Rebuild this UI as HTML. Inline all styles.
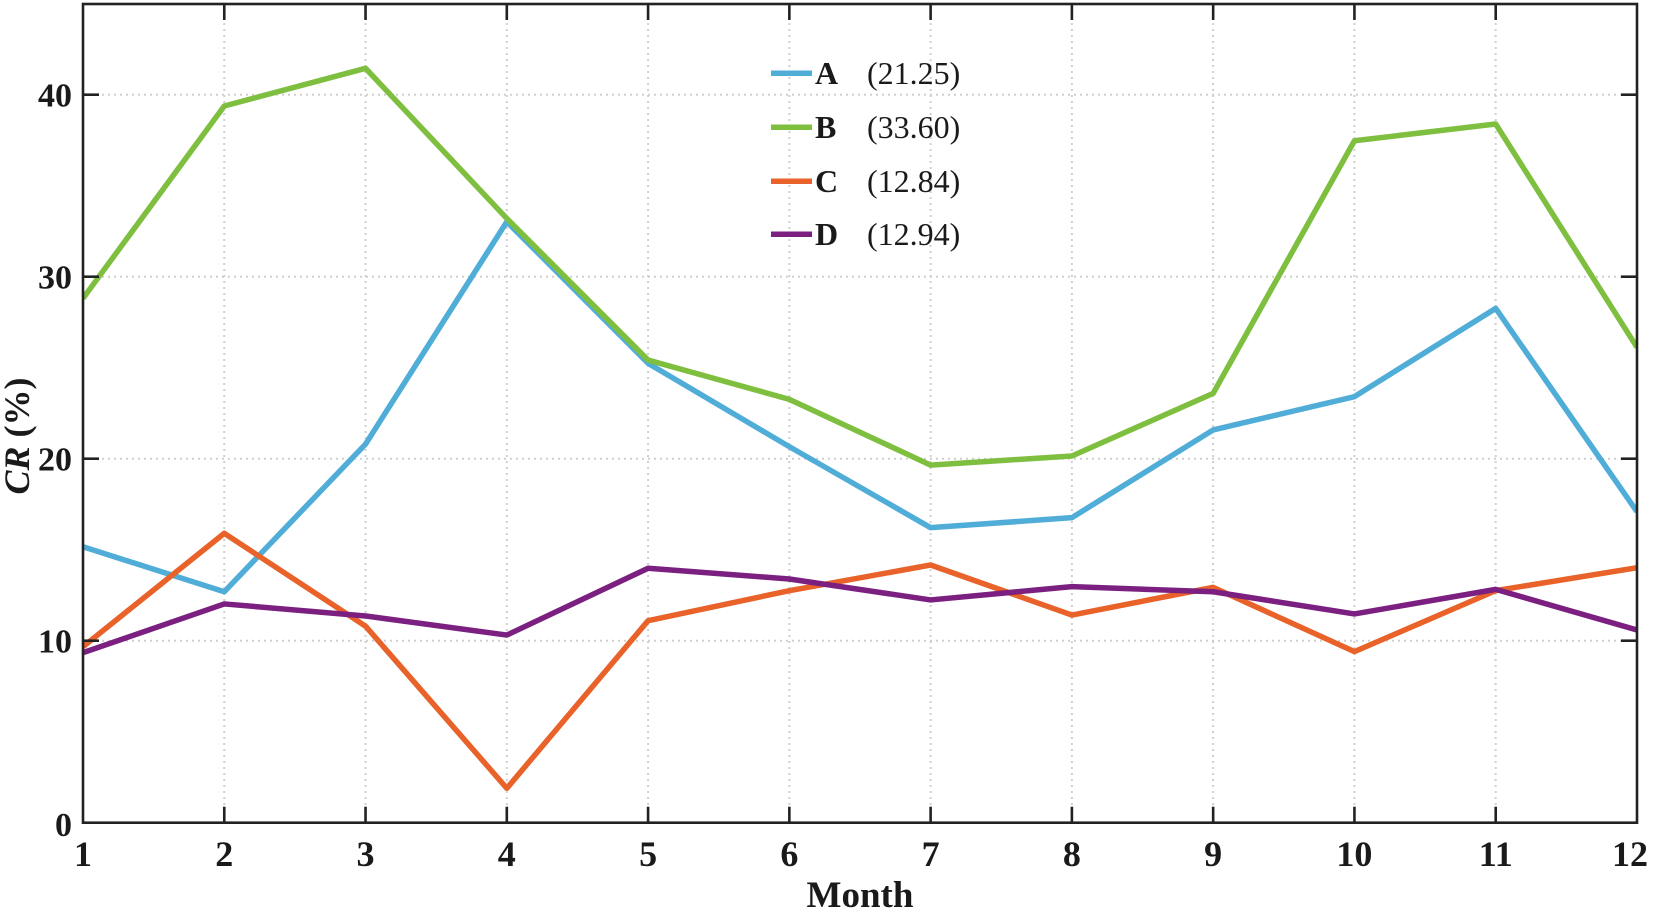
<!DOCTYPE html>
<html>
<head>
<meta charset="utf-8">
<style>
  html, body { margin: 0; padding: 0; background: #ffffff; }
  svg { display: block; }
  text { font-family: "Liberation Serif", "Times New Roman", serif; fill: #1a1a1a; }
</style>
</head>
<body>
<svg width="1656" height="911" viewBox="0 0 1656 911" xmlns="http://www.w3.org/2000/svg">
  <defs>
    <clipPath id="plotclip">
      <rect x="83" y="4" width="1554" height="819"/>
    </clipPath>
  </defs>

  <!-- Grid -->
  <g stroke="#cfcfcf" stroke-width="2" stroke-dasharray="2,4" fill="none">
    <line x1="224.27" y1="5" x2="224.27" y2="822"/>
    <line x1="365.54" y1="5" x2="365.54" y2="822"/>
    <line x1="506.81" y1="5" x2="506.81" y2="822"/>
    <line x1="648.08" y1="5" x2="648.08" y2="822"/>
    <line x1="789.35" y1="5" x2="789.35" y2="822"/>
    <line x1="930.62" y1="5" x2="930.62" y2="822"/>
    <line x1="1071.89" y1="5" x2="1071.89" y2="822"/>
    <line x1="1213.16" y1="5" x2="1213.16" y2="822"/>
    <line x1="1354.43" y1="5" x2="1354.43" y2="822"/>
    <line x1="1495.7" y1="5" x2="1495.7" y2="822"/>
    <line x1="84" y1="640.7" x2="1636" y2="640.7"/>
    <line x1="84" y1="458.7" x2="1636" y2="458.7"/>
    <line x1="84" y1="276.7" x2="1636" y2="276.7"/>
    <line x1="84" y1="94.7" x2="1636" y2="94.7"/>
  </g>

  <!-- Series -->
  <g clip-path="url(#plotclip)">
    <g transform="translate(83,822.7) scale(141.27,-18.2)" fill="none" stroke-linejoin="round" stroke-linecap="butt">
      <polyline vector-effect="non-scaling-stroke" stroke="#4fadd8" stroke-width="5.5"
        points="0,15.16 1,12.69 2,20.8 3,33.02 4,25.24 5,20.66 6,16.21 7,16.76 8,21.58 9,23.41 10,28.26 11,17.09"/>
      <polyline vector-effect="non-scaling-stroke" stroke="#7fbf3f" stroke-width="5.5"
        points="0,28.81 1,39.38 2,41.45 3,33.2 4,25.42 5,23.26 6,19.65 7,20.15 8,23.59 9,37.47 10,38.39 11,26.12"/>
      <polyline vector-effect="non-scaling-stroke" stroke="#e8622a" stroke-width="5.5"
        points="0,9.67 1,15.9 2,10.8 3,1.89 4,11.1 5,12.75 6,14.16 7,11.41 8,12.93 9,9.4 10,12.75 11,14.01"/>
      <polyline vector-effect="non-scaling-stroke" stroke="#7b2080" stroke-width="5.5"
        points="0,9.34 1,12.02 2,11.36 3,10.31 4,13.98 5,13.39 6,12.24 7,12.97 8,12.69 9,11.47 10,12.82 11,10.59"/>
    </g>
  </g>

  <!-- Axes box -->
  <rect x="83" y="4" width="1554" height="818.7" fill="none" stroke="#222" stroke-width="2.6"/>

  <!-- Ticks -->
  <g stroke="#222" stroke-width="2.6">
    <line x1="224.27" y1="822.7" x2="224.27" y2="806.7"/>
    <line x1="365.54" y1="822.7" x2="365.54" y2="806.7"/>
    <line x1="506.81" y1="822.7" x2="506.81" y2="806.7"/>
    <line x1="648.08" y1="822.7" x2="648.08" y2="806.7"/>
    <line x1="789.35" y1="822.7" x2="789.35" y2="806.7"/>
    <line x1="930.62" y1="822.7" x2="930.62" y2="806.7"/>
    <line x1="1071.89" y1="822.7" x2="1071.89" y2="806.7"/>
    <line x1="1213.16" y1="822.7" x2="1213.16" y2="806.7"/>
    <line x1="1354.43" y1="822.7" x2="1354.43" y2="806.7"/>
    <line x1="1495.7" y1="822.7" x2="1495.7" y2="806.7"/>
    <line x1="224.27" y1="4" x2="224.27" y2="20"/>
    <line x1="365.54" y1="4" x2="365.54" y2="20"/>
    <line x1="506.81" y1="4" x2="506.81" y2="20"/>
    <line x1="648.08" y1="4" x2="648.08" y2="20"/>
    <line x1="789.35" y1="4" x2="789.35" y2="20"/>
    <line x1="930.62" y1="4" x2="930.62" y2="20"/>
    <line x1="1071.89" y1="4" x2="1071.89" y2="20"/>
    <line x1="1213.16" y1="4" x2="1213.16" y2="20"/>
    <line x1="1354.43" y1="4" x2="1354.43" y2="20"/>
    <line x1="1495.7" y1="4" x2="1495.7" y2="20"/>
    <line x1="83" y1="640.7" x2="99" y2="640.7"/>
    <line x1="83" y1="458.7" x2="99" y2="458.7"/>
    <line x1="83" y1="276.7" x2="99" y2="276.7"/>
    <line x1="83" y1="94.7" x2="99" y2="94.7"/>
    <line x1="1637" y1="640.7" x2="1621" y2="640.7"/>
    <line x1="1637" y1="458.7" x2="1621" y2="458.7"/>
    <line x1="1637" y1="276.7" x2="1621" y2="276.7"/>
    <line x1="1637" y1="94.7" x2="1621" y2="94.7"/>
  </g>

  <!-- Y tick labels -->
  <g font-size="34" font-weight="bold" text-anchor="end">
    <text x="72" y="836">0</text>
    <text x="72" y="652.5">10</text>
    <text x="72" y="470.5">20</text>
    <text x="72" y="288.5">30</text>
    <text x="72" y="106.5">40</text>
  </g>

  <!-- X tick labels -->
  <g font-size="36" font-weight="bold" text-anchor="middle">
    <text x="83" y="866">1</text>
    <text x="224.27" y="866">2</text>
    <text x="365.54" y="866">3</text>
    <text x="506.81" y="866">4</text>
    <text x="648.08" y="866">5</text>
    <text x="789.35" y="866">6</text>
    <text x="930.62" y="866">7</text>
    <text x="1071.89" y="866">8</text>
    <text x="1213.16" y="866">9</text>
    <text x="1354.43" y="866">10</text>
    <text x="1495.7" y="866">11</text>
    <text x="1630" y="866">12</text>
  </g>

  <!-- Axis labels -->
  <text x="860" y="907" font-size="37" font-weight="bold" text-anchor="middle">Month</text>
  <text transform="translate(29,436) rotate(-90)" font-size="36" font-weight="bold" text-anchor="middle"><tspan font-style="italic">CR</tspan> (%)</text>

  <!-- Legend -->
  <g stroke-width="5.5">
    <line x1="771" y1="73.3" x2="812" y2="73.3" stroke="#4fadd8"/>
    <line x1="771" y1="127.3" x2="812" y2="127.3" stroke="#7fbf3f"/>
    <line x1="771" y1="181.3" x2="812" y2="181.3" stroke="#e8622a"/>
    <line x1="771" y1="234.3" x2="812" y2="234.3" stroke="#7b2080"/>
  </g>
  <g font-size="32">
    <text x="815" y="84" font-weight="bold">A</text>
    <text x="867" y="84">(21.25)</text>
    <text x="815" y="138" font-weight="bold">B</text>
    <text x="867" y="138">(33.60)</text>
    <text x="815" y="192" font-weight="bold">C</text>
    <text x="867" y="192">(12.84)</text>
    <text x="815" y="245" font-weight="bold">D</text>
    <text x="867" y="245">(12.94)</text>
  </g>
</svg>
</body>
</html>
